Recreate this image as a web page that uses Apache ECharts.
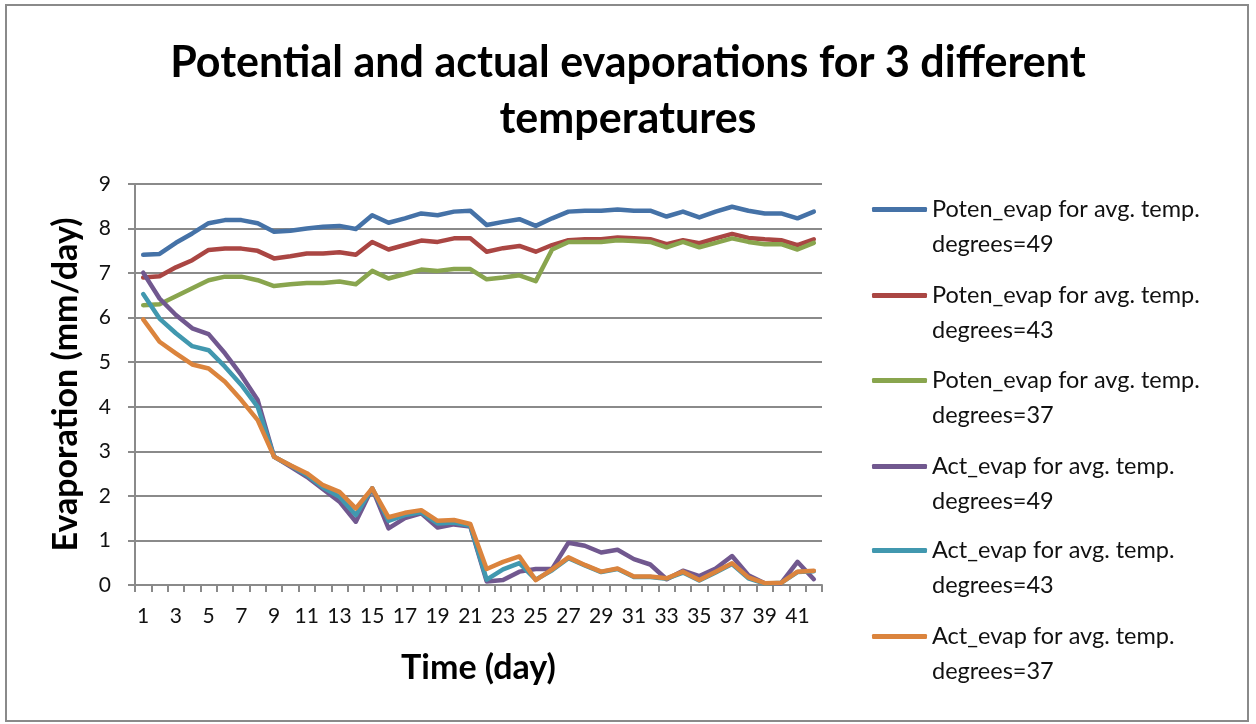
<!DOCTYPE html>
<html>
<head>
<meta charset="utf-8">
<script src="https://cdn.jsdelivr.net/npm/echarts@6/dist/echarts.min.js"></script>
<style>
html,body{margin:0;padding:0;background:#fff;}
#chart{width:1256px;height:724px;}
</style>
</head>
<body>
<div id="chart"></div>
<script>
const days = Array.from({length: 42}, (_, i) => String(i + 1));

const seriesNames = [
  "Poten_evap for avg. temp. degrees=49",
  "Poten_evap for avg. temp. degrees=43",
  "Poten_evap for avg. temp. degrees=37",
  "Act_evap for avg. temp. degrees=49",
  "Act_evap for avg. temp. degrees=43",
  "Act_evap for avg. temp. degrees=37"
];

const potenEvap49 = [7.41,7.43,7.68,7.89,8.12,8.19,8.19,8.12,7.93,7.95,
  8.00,8.04,8.06,7.99,8.30,8.13,8.23,8.34,8.30,8.38,
  8.40,8.08,8.15,8.21,8.06,8.23,8.38,8.40,8.40,8.43,
  8.40,8.40,8.27,8.38,8.25,8.38,8.49,8.40,8.34,8.34,
  8.23,8.38];
const potenEvap43 = [6.90,6.93,7.13,7.29,7.52,7.55,7.55,7.50,7.33,7.38,
  7.44,7.44,7.47,7.41,7.70,7.53,7.63,7.73,7.70,7.78,
  7.78,7.48,7.56,7.61,7.48,7.63,7.74,7.76,7.76,7.80,
  7.78,7.76,7.65,7.74,7.67,7.78,7.88,7.79,7.76,7.74,
  7.63,7.76];
const potenEvap37 = [6.28,6.30,6.48,6.66,6.84,6.92,6.92,6.84,6.71,6.75,
  6.78,6.78,6.81,6.75,7.05,6.88,6.98,7.08,7.05,7.09,
  7.09,6.86,6.90,6.95,6.82,7.53,7.70,7.70,7.70,7.74,
  7.72,7.70,7.58,7.70,7.58,7.68,7.78,7.70,7.65,7.65,
  7.53,7.68];
const actEvap49 = [7.01,6.43,6.06,5.76,5.63,5.20,4.71,4.15,2.88,2.66,
  2.43,2.15,1.87,1.42,2.17,1.27,1.50,1.61,1.29,1.36,
  1.31,0.08,0.11,0.30,0.36,0.36,0.95,0.88,0.73,0.79,
  0.58,0.46,0.13,0.32,0.20,0.37,0.65,0.22,0.04,0.04,
  0.52,0.13];
const actEvap43 = [6.53,5.98,5.65,5.36,5.27,4.90,4.49,4.00,2.88,2.68,
  2.47,2.19,1.98,1.57,2.17,1.44,1.57,1.63,1.38,1.40,
  1.33,0.12,0.35,0.49,0.12,0.33,0.60,0.44,0.29,0.36,
  0.18,0.18,0.14,0.28,0.10,0.28,0.47,0.15,0.03,0.05,
  0.29,0.31];
const actEvap37 = [5.96,5.46,5.20,4.95,4.86,4.56,4.15,3.70,2.88,2.69,
  2.51,2.24,2.09,1.72,2.17,1.52,1.62,1.68,1.44,1.46,
  1.37,0.36,0.52,0.64,0.11,0.35,0.62,0.45,0.30,0.37,
  0.19,0.19,0.15,0.30,0.11,0.30,0.49,0.17,0.04,0.05,
  0.30,0.32];

const seriesData = [potenEvap49, potenEvap43, potenEvap37, actEvap49, actEvap43, actEvap37];
const colors = ["#4572A7", "#AA4643", "#89A54E", "#71588F", "#4198AF", "#DB843D"];

const FONT = "Lato";
const legendTops = [157, 243, 328, 414, 498, 584];

const chart = echarts.init(document.getElementById('chart'), null, {renderer: 'canvas'});

const legends = seriesNames.map((name, i) => ({
  data: [name],
  orient: 'vertical',
  left: 872,
  top: legendTops[i],
  padding: 0,
  itemWidth: 55,
  itemHeight: 5,
  icon: 'roundRect',
  selectedMode: false,
  formatter: n => '\n' + n.replace(' degrees', '\ndegrees'),
  textStyle: {
    fontFamily: FONT,
    fontSize: 23.5,
    color: '#111',
    lineHeight: 35
  }
}));

chart.setOption({
  animation: false,
  backgroundColor: '#fff',
  color: colors,
  title: {
    text: 'Potential and actual evaporations for 3 different\ntemperatures',
    left: 'center',
    top: 30,
    textStyle: {
      fontFamily: FONT,
      fontWeight: 'bold',
      fontSize: 43,
      lineHeight: 56,
      color: '#000'
    }
  },
  legend: legends,
  grid: {left: 135, right: 434, top: 184, bottom: 139},
  xAxis: {
    type: 'category',
    data: days,
    boundaryGap: true,
    name: 'Time (day)',
    nameLocation: 'middle',
    nameGap: 66,
    nameTextStyle: {fontFamily: FONT, fontWeight: 'bold', fontSize: 34, color: '#000'},
    axisLine: {lineStyle: {color: '#8a8a8a', width: 2}},
    axisTick: {show: true, interval: 0, length: 7, lineStyle: {color: '#8a8a8a', width: 2}},
    axisLabel: {interval: 1, fontFamily: FONT, fontSize: 21, color: '#111', margin: 21}
  },
  yAxis: {
    type: 'value',
    min: 0,
    max: 9,
    interval: 1,
    name: 'Evaporation (mm/day)',
    nameLocation: 'middle',
    nameGap: 52,
    nameTextStyle: {fontFamily: FONT, fontWeight: 'bold', fontSize: 34, color: '#000'},
    axisLine: {show: true, lineStyle: {color: '#8a8a8a', width: 2}},
    axisTick: {show: true, length: 7, lineStyle: {color: '#8a8a8a', width: 2}},
    splitLine: {show: true, lineStyle: {color: '#8a8a8a', width: 2}},
    axisLabel: {fontFamily: FONT, fontSize: 21, color: '#111', margin: 24}
  },
  series: seriesNames.map((name, i) => ({
    name: name,
    type: 'line',
    data: seriesData[i],
    symbol: 'none',
    lineStyle: {width: 4.5, color: colors[i], cap: 'round', join: 'round'},
    itemStyle: {color: colors[i]},
    z: 2 + i
  })),
  graphic: [{
    type: 'rect',
    shape: {x: 6, y: 5, width: 1242, height: 716},
    style: {fill: 'none', stroke: '#8a8a8a', lineWidth: 2},
    silent: true
  }]
});
</script>
</body>
</html>
